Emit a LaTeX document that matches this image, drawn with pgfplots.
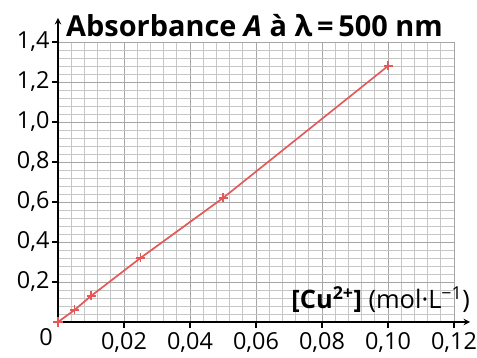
\documentclass[border=0pt]{standalone}
\usepackage{pgfplots}
\pgfplotsset{compat=1.18}
\usepackage{fontspec}
\setmainfont{Open Sans}
\definecolor{curve}{RGB}{228,88,88}
\begin{document}
\begin{tikzpicture}
\path[use as bounding box] (0,0) rectangle (477bp,358bp);
\begin{axis}[
  at={(58bp,36bp)}, anchor=south west,
  scale only axis, width=396bp, height=280bp,
  xmin=0, xmax=0.12, ymin=0, ymax=1.4,
  axis lines=left,
  axis line style={line width=1.8bp, black},
  x axis line style={shorten >=-16bp},
  y axis line style={shorten >=-24bp},
  xtick={0.02,0.04,0.06,0.08,0.10,0.12},
  ytick={0.2,0.4,0.6,0.8,1.0,1.2,1.4},
  minor xtick={0,0.004,...,0.1201},
  minor ytick={0,0.04,...,1.401},
  grid=both,
  major grid style={gray!70, line width=0.8bp},
  minor grid style={gray!45, line width=0.7bp},
  tick align=outside,
  major tick length=6bp,
  minor tick length=0pt,
  tick style={black, line width=1.3bp},
  /pgf/number format/assume math mode=true,
  /pgf/number format/use comma,
  xticklabel style={/pgf/number format/fixed, /pgf/number format/fixed zerofill, /pgf/number format/precision=2, yshift=-1bp},
  yticklabel style={/pgf/number format/fixed, /pgf/number format/fixed zerofill, /pgf/number format/precision=1, xshift=1bp},
  ticklabel style={font=\fontsize{23.5}{26}\selectfont},
  clip=false,
]
\addplot[color=curve, line width=1.7bp, mark=+, mark size=4.5bp, mark options={line width=1.3bp}]
  coordinates {(0,0) (0.005,0.06) (0.01,0.13) (0.025,0.32) (0.05,0.62) (0.1,1.28)};
\node[anchor=north east, font=\fontsize{23.5}{26}\selectfont, inner sep=0pt] at (axis cs:0,0) [xshift=-5bp, yshift=-6bp] {0};
\node[anchor=base west, font=\fontsize{29}{32}\selectfont\bfseries, inner sep=0pt] at (axis cs:0,1.4) [xshift=8bp, yshift=5bp] {Absorbance \textit{A} à λ\,=\,500 nm};
\node[anchor=base east, font=\fontsize{25.5}{28}\selectfont, inner sep=0pt] at (axis cs:0.12,0) [xshift=16bp, yshift=14bp] {\textbf{[Cu\textsuperscript{2+}]} (mol·L\textsuperscript{−1})};
\end{axis}
\end{tikzpicture}
\end{document}
